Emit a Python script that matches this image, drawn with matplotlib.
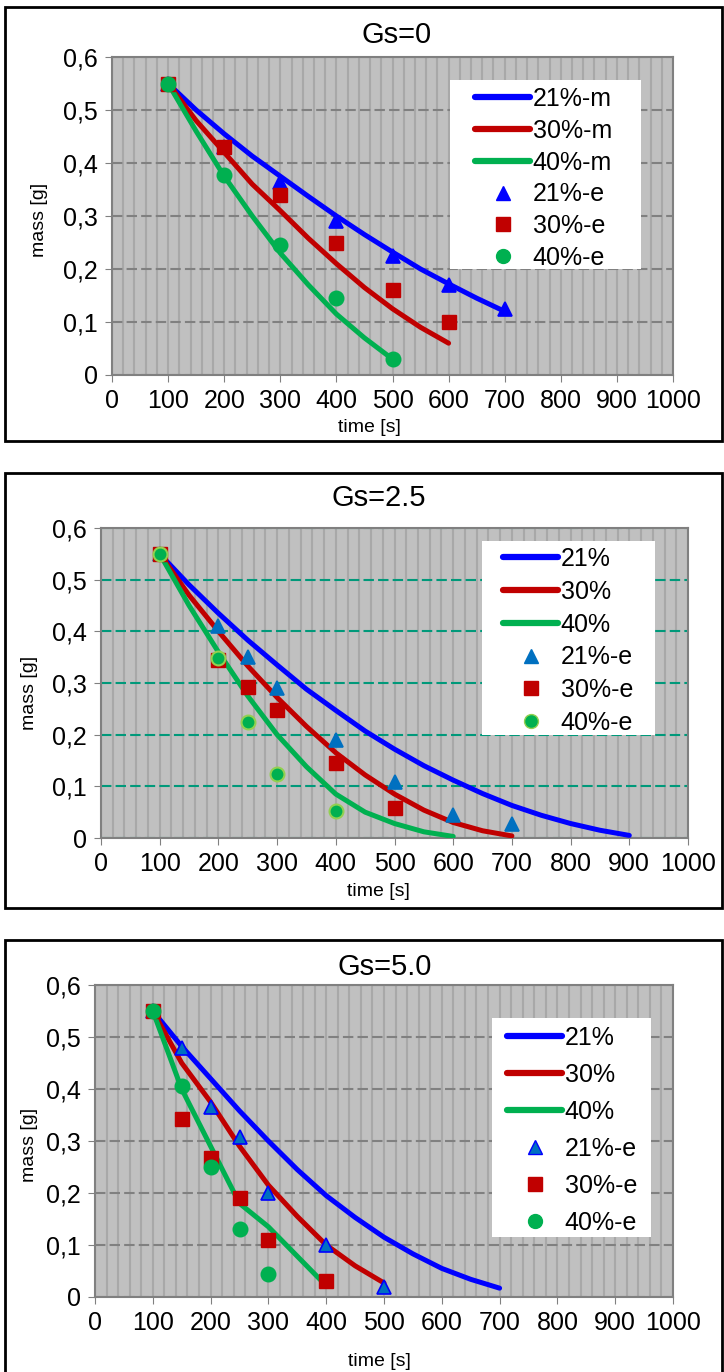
import matplotlib

matplotlib.use("Agg")
import matplotlib.pyplot as plt
from matplotlib.patches import Rectangle
from matplotlib.lines import Line2D
from matplotlib.ticker import MultipleLocator, FuncFormatter

plt.rcParams["font.family"] = ["Liberation Sans", "DejaVu Sans"]

BLUE = "#0000FF"
RED = "#C00000"
GREEN = "#00B050"

# ---- Gs=0 ----
G0_T21_M = [100, 150, 200, 250, 300, 350, 400, 450, 500, 550, 600, 650, 700]
G0_M21 = [0.55, 0.50, 0.455, 0.413, 0.375, 0.337, 0.30, 0.265, 0.232, 0.20, 0.172, 0.145, 0.12]
G0_T30_M = [100, 150, 200, 250, 300, 350, 400, 450, 500, 550, 600]
G0_M30 = [0.55, 0.48, 0.42, 0.36, 0.31, 0.258, 0.21, 0.165, 0.125, 0.09, 0.06]
G0_T40_M = [100, 150, 200, 250, 300, 350, 400, 450, 500]
G0_M40 = [0.55, 0.46, 0.375, 0.30, 0.23, 0.17, 0.115, 0.07, 0.03]
G0_T21_E = [100, 200, 300, 400, 500, 600, 700]
G0_E21 = [0.55, 0.43, 0.365, 0.29, 0.225, 0.17, 0.125]
G0_T30_E = [100, 200, 300, 400, 500, 600]
G0_E30 = [0.55, 0.43, 0.34, 0.25, 0.16, 0.10]
G0_T40_E = [100, 200, 300, 400, 500]
G0_E40 = [0.55, 0.378, 0.246, 0.146, 0.03]

# ---- Gs=2.5 ----
G2_T21_M = [100, 150, 200, 250, 300, 350, 400, 450, 500, 550, 600, 650, 700, 750, 800, 850, 900]
G2_M21 = [0.55, 0.49, 0.435, 0.383, 0.335, 0.288, 0.247, 0.207, 0.172, 0.14, 0.112, 0.086,
          0.063, 0.044, 0.028, 0.015, 0.005]
G2_T30_M = [100, 150, 200, 250, 300, 350, 400, 450, 500, 550, 600, 650, 700]
G2_M30 = [0.55, 0.47, 0.40, 0.333, 0.272, 0.216, 0.165, 0.122, 0.085, 0.054, 0.03, 0.014, 0.004]
G2_T40_M = [100, 150, 200, 250, 300, 350, 400, 450, 500, 550, 600]
G2_M40 = [0.55, 0.45, 0.36, 0.275, 0.20, 0.138, 0.085, 0.05, 0.028, 0.012, 0.003]
G2_T21_E = [100, 200, 250, 300, 400, 500, 600, 700]
G2_E21 = [0.55, 0.41, 0.35, 0.29, 0.19, 0.108, 0.045, 0.028]
G2_T30_E = [100, 200, 250, 300, 400, 500]
G2_E30 = [0.55, 0.345, 0.292, 0.248, 0.146, 0.058]
G2_T40_E = [100, 200, 250, 300, 400]
G2_E40 = [0.55, 0.348, 0.225, 0.123, 0.053]

# ---- Gs=5.0 ----
G5_T21_M = [100, 150, 200, 250, 300, 350, 400, 450, 500, 550, 600, 650, 700]
G5_M21 = [0.55, 0.482, 0.42, 0.358, 0.30, 0.245, 0.195, 0.153, 0.115, 0.083, 0.055, 0.034, 0.017]
G5_T30_M = [100, 150, 200, 250, 300, 350, 400, 450, 500]
G5_M30 = [0.55, 0.45, 0.375, 0.29, 0.215, 0.155, 0.10, 0.06, 0.027]
G5_T40_M = [100, 150, 200, 250, 300, 390]
G5_M40 = [0.55, 0.40, 0.29, 0.18, 0.135, 0.033]
G5_T21_E = [100, 150, 200, 250, 300, 400, 500]
G5_E21 = [0.55, 0.478, 0.365, 0.308, 0.20, 0.10, 0.02]
G5_T30_E = [100, 150, 200, 250, 300, 400]
G5_E30 = [0.55, 0.343, 0.267, 0.19, 0.11, 0.03]
G5_T40_E = [100, 150, 200, 250, 300]
G5_E40 = [0.55, 0.405, 0.25, 0.13, 0.045]

TITLES = ["Gs=0", "Gs=2.5", "Gs=5.0"]
LABELS_M = [["21%-m", "30%-m", "40%-m"], ["21%", "30%", "40%"], ["21%", "30%", "40%"]]
LABELS_E = ["21%-e", "30%-e", "40%-e"]


def comma(v, pos):
    if abs(v) < 1e-9:
        return "0"
    return f"{v:.1f}".replace(".", ",")


W, H = 724, 1372
fig = plt.figure(figsize=(W / 100, H / 100), dpi=100)

# panel frames (px): left, top, right, bottom
frames = [(5, 7, 722, 441), (5, 473, 722, 908), (5, 940, 722, 1375)]
# axes (px): left, top, right, bottom
axes_px = [(112, 57, 673, 375), (101, 528, 688, 838), (95, 985, 673, 1297)]
# legend white box (px) and legend anchor: first handle x, centre of first row, row pitch
legend_box = [(450, 80, 641, 269), (482, 541, 655, 735), (492, 1018, 651, 1237)]
legend_anchor = [(475, 97, 31.2), (503, 557, 32.2), (507, 1036, 36.4)]
title_xy = [(397, 35), (379, 498), (385, 967)]
xlabel_xy = [(369, 428), (378, 892), (379, 1362)]
ylabel_xy = [(39, 220), (29, 693), (29, 1145)]

panels = [
    (G0_T21_M, G0_M21, G0_T30_M, G0_M30, G0_T40_M, G0_M40,
     G0_T21_E, G0_E21, G0_T30_E, G0_E30, G0_T40_E, G0_E40),
    (G2_T21_M, G2_M21, G2_T30_M, G2_M30, G2_T40_M, G2_M40,
     G2_T21_E, G2_E21, G2_T30_E, G2_E30, G2_T40_E, G2_E40),
    (G5_T21_M, G5_M21, G5_T30_M, G5_M30, G5_T40_M, G5_M40,
     G5_T21_E, G5_E21, G5_T30_E, G5_E30, G5_T40_E, G5_E40),
]

tri_face = [BLUE, "#0070C0", "#0070C0"]
tri_edge = [BLUE, "#0070C0", "#0000FF"]
circ_edge = [GREEN, "#92D050", GREEN]
grid_col = ["#808080", "#00997A", "#808080"]
FS = 18

for i, data in enumerate(panels):
    fl, ft, fr, fb = frames[i]
    fig.patches.append(Rectangle((fl / W, 1 - fb / H), (fr - fl) / W, (fb - ft) / H,
                                 transform=fig.transFigure, fill=False,
                                 edgecolor="black", lw=2, zorder=0))
    l, t, r, b = axes_px[i]
    ax = fig.add_axes([l / W, 1 - b / H, (r - l) / W, (b - t) / H])
    ax.set_facecolor("#C0C0C0")
    ax.set_xlim(0, 1000)
    ax.set_ylim(0, 0.6)
    ax.xaxis.set_major_locator(MultipleLocator(100))
    ax.xaxis.set_minor_locator(MultipleLocator(20))
    ax.yaxis.set_major_locator(MultipleLocator(0.1))
    ax.yaxis.set_major_formatter(FuncFormatter(comma))
    ax.grid(axis="x", which="both", color="#A8A8A8", lw=1.5, zorder=0)
    ax.grid(axis="y", which="major", color=grid_col[i], lw=1.5, ls=(0, (5, 2)), zorder=0)
    ax.tick_params(axis="both", which="major", labelsize=FS, length=5, color="#808080",
                   direction="out", pad=5)
    ax.tick_params(axis="x", which="minor", length=0)
    for s in ax.spines.values():
        s.set_color("#808080")
        s.set_linewidth(1.5)
    ax.set_axisbelow(True)

    (t21m, m21, t30m, m30, t40m, m40, t21e, e21, t30e, e30, t40e, e40) = data
    for tt, mm, col in ((t21m, m21, BLUE), (t30m, m30, RED), (t40m, m40, GREEN)):
        ax.plot(tt, mm, color=col, lw=3.6, zorder=3, solid_capstyle="round",
                solid_joinstyle="round")
    ax.plot(t21e, e21, ls="none", marker="^", ms=10.5, mfc=tri_face[i], mec=tri_edge[i],
            mew=1.2, zorder=4)
    ax.plot(t30e, e30, ls="none", marker="s", ms=10, mfc=RED, mec=RED, zorder=5)
    ax.plot(t40e, e40, ls="none", marker="o", ms=10, mfc=GREEN, mec=circ_edge[i],
            mew=1.5, zorder=6)

    # legend: white box plus frameless legend
    bl, bt, br, bb = legend_box[i]
    ax.add_patch(Rectangle((bl / W, 1 - bb / H), (br - bl) / W, (bb - bt) / H,
                           transform=fig.transFigure, facecolor="white",
                           edgecolor="none", zorder=2.5, clip_on=False))
    handles = [
        Line2D([], [], color=BLUE, lw=4.5, solid_capstyle="round"),
        Line2D([], [], color=RED, lw=4.5, solid_capstyle="round"),
        Line2D([], [], color=GREEN, lw=4.5, solid_capstyle="round"),
        Line2D([], [], ls="none", marker="^", ms=10.5, mfc=tri_face[i], mec=tri_edge[i]),
        Line2D([], [], ls="none", marker="s", ms=10, mfc=RED, mec=RED),
        Line2D([], [], ls="none", marker="o", ms=10, mfc=GREEN, mec=circ_edge[i]),
    ]
    ax_x, row0, pitch = legend_anchor[i]
    fs_px = FS * 100 / 72
    spacing = (pitch + 1.6 - fs_px) / fs_px
    fig.legend(handles, LABELS_M[i] + LABELS_E, loc="upper left",
               bbox_to_anchor=(ax_x / W, 1 - (row0 - fs_px * 0.40) / H),
               fontsize=FS, frameon=False, handlelength=2.2, handletextpad=0.1,
               labelspacing=spacing, borderpad=0, borderaxespad=0)

    tx, ty = title_xy[i]
    fig.text(tx / W, 1 - ty / H, TITLES[i], ha="center", va="center", fontsize=21)
    xx, xy = xlabel_xy[i]
    fig.text(xx / W, 1 - xy / H, "time [s]", ha="center", va="center", fontsize=14)
    yx, yy = ylabel_xy[i]
    fig.text(yx / W, 1 - yy / H, "mass [g]", ha="center", va="center", rotation=90,
             fontsize=14)

fig.savefig("out.png", dpi=100)
